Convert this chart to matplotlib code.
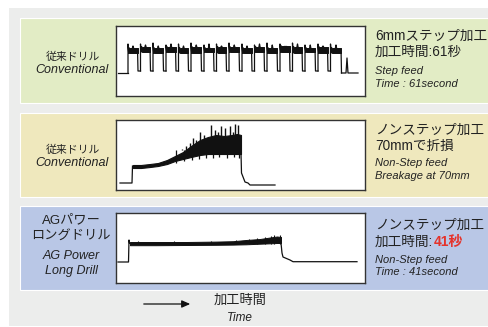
import matplotlib
matplotlib.use('Agg')
import matplotlib.pyplot as plt
from matplotlib.patches import Rectangle, FancyArrowPatch

# === COLOURS ===
GRAY_BG = '#ecedec'
GREEN = '#e2ecc5'
YELLOW = '#efe8bd'
BLUE = '#b9c7e6'
INK = '#111111'
RED = '#e5322a'

JP = ['Liberation Sans', 'Noto Sans CJK JP']

# === DATA (time on x, spindle load on y) ===
# step feed, conventional drill: one entry per pulse
step_start = [12, 24.5, 37, 50, 62.5, 75, 88, 100.5, 113, 126, 138.5, 151, 164, 176.5, 189, 202, 214.5]
step_end = [22, 34.5, 47.5, 60, 72.5, 85.5, 98, 110.5, 123.5, 136, 148.5, 161.5, 174, 186.5, 199.5, 212, 225.5]
step_lo = [43, 44, 43, 44, 43, 43, 44, 43, 44, 43, 44, 43, 44, 43, 44, 43, 43]
step_hi = [48, 49, 48, 49, 48, 49, 48, 49, 49, 48, 49, 48, 50, 49, 48, 49, 48]
step_spike = [52, 52, 53, 51, 52, 53, 51, 52, 53, 52, 51, 53, 52, 53, 51, 52, 52]
step_mid = [50, 51, 50, 52, 50, 51, 52, 50, 51, 50, 52, 51, 50, 52, 51, 50, 51]
step_base = 23
step_dip = 25
step_tail_x = [225.5, 230, 231, 232, 242]
step_tail_y = [23, 23, 38, 23, 23]
step_head_x = [2, 12]

# non-step feed, conventional drill (breaks at 70 mm)
ns_pre_x = [4, 16, 16.5]
ns_pre_y = [7, 7, 24]
ns_x = [17, 25, 34, 42, 51, 59, 67, 75, 84, 92, 100, 108, 116, 121, 125]
ns_lo = [22, 22, 23, 24, 26, 29, 31, 33, 35, 36, 36, 36, 36, 36, 36]
ns_hi = [25, 25, 26, 27, 30, 34, 38, 44, 50, 53, 55, 54, 55, 56, 55]
ns_spike_x = [62, 66, 70, 74, 77, 80, 84, 88, 95, 99, 102, 105, 109, 114, 117, 119, 122]
ns_spike_y = [40, 41, 44, 47, 52, 50, 58, 55, 65, 60, 58, 64, 62, 64, 58, 66, 65]
ns_dip_x = [60, 68, 76, 83, 90, 97, 103, 111, 118, 123]
ns_dip_y = [27, 29, 30, 31, 32, 32, 33, 32, 33, 32]
ns_post_x = [125, 125.5, 129, 132, 134, 159]
ns_post_y = [37, 17, 8, 7, 5, 5]

# non-step feed, AG power long drill
ag_pre_x = [2, 12.5, 13, 13.5]
ag_pre_y = [21, 21, 43, 40]
ag_x = [14, 40, 70, 100, 117, 130, 144, 152, 161, 165]
ag_lo = [37.8, 37.8, 38, 38.2, 38.4, 38.7, 39.3, 39.6, 40, 40]
ag_hi = [41, 41, 41, 41.4, 41.8, 43, 44, 45.2, 46.5, 46]
ag_spike_x = [22, 58, 95, 120, 133, 141, 149, 155, 158, 164]
ag_spike_y = [42.5, 42.5, 42.5, 43.5, 44.5, 45.5, 46.5, 47.5, 48, 48.5]
ag_post_x = [165, 166, 167, 174, 177, 241]
ag_post_y = [40, 30, 26, 23, 21.3, 21.3]

# === FIGURE ===
W, H = 488, 327
fig = plt.figure(figsize=(W / 100, H / 100), dpi=100)
fig.patch.set_facecolor('white')
ax = fig.add_axes([0, 0, 1, 1])
ax.set_xlim(0, W)
ax.set_ylim(H, 0)
ax.axis('off')

ax.add_patch(Rectangle((9, 8), W - 9, 318, facecolor=GRAY_BG, edgecolor='none'))

panels = [(18, 103, GREEN), (113, 197, YELLOW), (206, 290, BLUE)]
for top, bot, col in panels:
    ax.add_patch(Rectangle((20, top), W - 19, bot - top, facecolor=col,
                           edgecolor='white', linewidth=0.8))

BOX_X, BOX_W, BOX_H = 116, 249, 70
box_tops = [26, 120, 213]


def trace_axes(top):
    ax.add_patch(Rectangle((BOX_X + 1.2, top + 1.2), BOX_W, BOX_H,
                           facecolor='#8a8a8a', edgecolor='none'))
    a = fig.add_axes([BOX_X / W, 1 - (top + BOX_H) / H, BOX_W / W, BOX_H / H])
    a.set_xlim(0, BOX_W)
    a.set_ylim(0, BOX_H)
    a.set_facecolor('white')
    a.set_xticks([])
    a.set_yticks([])
    for s in a.spines.values():
        s.set_color('#333333')
        s.set_linewidth(1.0)
    return a


# --- step feed ---
a1 = trace_axes(box_tops[0])
a1.plot(step_head_x, [step_base, step_base], color=INK, lw=0.9)
prev_y = step_base
for i, (s, e, lo, hi, sp, md) in enumerate(zip(step_start, step_end, step_lo,
                                               step_hi, step_spike, step_mid)):
    m = (s + e) / 2
    a1.plot([s, s, s + 0.7, s + 1.2], [prev_y, sp, lo, hi], color=INK, lw=0.9)
    a1.fill_between([s + 1.0, e - 0.4], [lo, lo], [hi, hi], color=INK, lw=0.7)
    a1.plot([m - 0.6, m, m + 0.6], [hi, md, hi], color=INK, lw=0.9)
    last = i == len(step_start) - 1
    nxt = step_tail_x[0] if last else step_start[i + 1]
    low = step_base if last else step_dip
    a1.plot([e - 0.4, e, nxt], [lo, low, low], color=INK, lw=0.9)
    prev_y = low
a1.plot(step_tail_x, step_tail_y, color=INK, lw=0.9)

# --- non-step, conventional ---
a2 = trace_axes(box_tops[1])
a2.plot(ns_pre_x, ns_pre_y, color=INK, lw=0.9)
a2.fill_between(ns_x, ns_lo, ns_hi, color=INK, lw=0.8)
a2.vlines(ns_spike_x, [40] * len(ns_spike_x), ns_spike_y, color=INK, lw=1.0)
a2.vlines(ns_dip_x, ns_dip_y, [40] * len(ns_dip_x), color=INK, lw=0.9)
a2.plot(ns_post_x, ns_post_y, color=INK, lw=0.9)

# --- non-step, AG power long drill ---
a3 = trace_axes(box_tops[2])
a3.plot(ag_pre_x, ag_pre_y, color=INK, lw=0.9)
a3.fill_between(ag_x, ag_lo, ag_hi, color=INK, lw=0.7)
a3.vlines(ag_spike_x, [39] * len(ag_spike_x), ag_spike_y, color=INK, lw=0.8)
a3.plot(ag_post_x, ag_post_y, color=INK, lw=0.9)

# === LEFT LABELS ===
ax.text(73, 57, '従来ドリル', ha='center', va='center', fontsize=7.8, family=JP, color='#222')
ax.text(72, 70, 'Conventional', ha='center', va='center', fontsize=9, style='italic',
        family=JP, color='#222')
ax.text(73, 150, '従来ドリル', ha='center', va='center', fontsize=7.8, family=JP, color='#222')
ax.text(72, 163, 'Conventional', ha='center', va='center', fontsize=9, style='italic',
        family=JP, color='#222')
ax.text(71, 220, 'AGパワー', ha='center', va='center', fontsize=9.5, family=JP, color='#222')
ax.text(71, 236, 'ロングドリル', ha='center', va='center', fontsize=9.5, family=JP, color='#222')
ax.text(71, 256, 'AG Power', ha='center', va='center', fontsize=9, style='italic',
        family=JP, color='#222')
ax.text(71, 271, 'Long Drill', ha='center', va='center', fontsize=9, style='italic',
        family=JP, color='#222')

# === RIGHT LABELS ===
RX = 375
ax.text(RX, 36, '6mmステップ加工', va='center', fontsize=9.8, family=JP, color='#222')
ax.text(RX, 52, '加工時間:61秒', va='center', fontsize=9.8, family=JP, color='#222')
ax.text(RX, 71, 'Step feed', va='center', fontsize=8, style='italic', family=JP, color='#222')
ax.text(RX, 84, 'Time : 61second', va='center', fontsize=8, style='italic', family=JP, color='#222')

ax.text(RX, 130, 'ノンステップ加工', va='center', fontsize=9.8, family=JP, color='#222')
ax.text(RX, 146, '70mmで折損', va='center', fontsize=9.8, family=JP, color='#222')
ax.text(RX, 163, 'Non-Step feed', va='center', fontsize=8, style='italic', family=JP, color='#222')
ax.text(RX, 176, 'Breakage at 70mm', va='center', fontsize=8, style='italic', family=JP, color='#222')

ax.text(RX, 225, 'ノンステップ加工', va='center', fontsize=9.8, family=JP, color='#222')
t = ax.text(RX, 242, '加工時間:', va='center', fontsize=9.8, family=JP, color='#222')
ax.annotate('41秒', xy=(1, 0.5), xycoords=t, va='center', ha='left', fontsize=10,
            fontweight='bold', family=JP, color=RED)
ax.text(RX, 260, 'Non-Step feed', va='center', fontsize=8, style='italic', family=JP, color='#222')
ax.text(RX, 272, 'Time : 41second', va='center', fontsize=8, style='italic', family=JP, color='#222')

# === TIME AXIS NOTE ===
ax.add_patch(FancyArrowPatch((141, 304), (193, 304), arrowstyle='-|>,head_width=2.2,head_length=5',
                             color='#111', linewidth=0.9, mutation_scale=1))
ax.text(240, 301, '加工時間', ha='center', va='center', fontsize=9.5, family=JP, color='#222')
ax.text(240, 318, 'Time', ha='center', va='center', fontsize=8.5, style='italic', family=JP, color='#222')

fig.savefig('out.png', dpi=100, facecolor='white')
